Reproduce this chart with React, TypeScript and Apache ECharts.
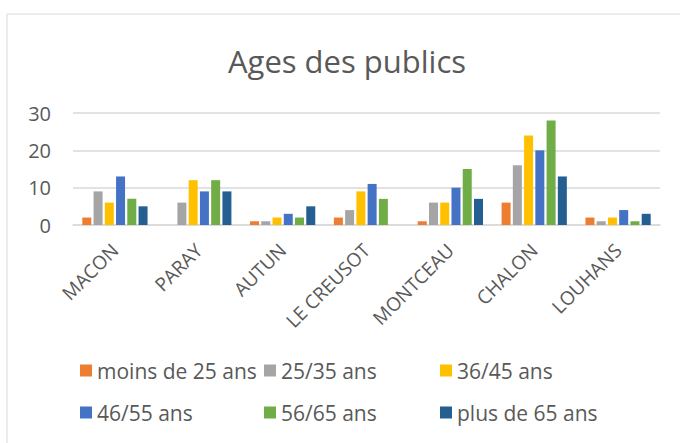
import React, { useEffect, useRef } from "react";
import * as echarts from "echarts";

const categories = ["MACON", "PARAY", "AUTUN", "LE CREUSOT", "MONTCEAU", "CHALON", "LOUHANS"];
const seriesNames = ["moins de 25 ans", "25/35 ans", "36/45 ans", "46/55 ans", "56/65 ans", "plus de 65 ans"];
const moins25 = [2, 0, 1, 2, 1, 6, 2];
const a25_35 = [9, 6, 1, 4, 6, 16, 1];
const a36_45 = [6, 12, 2, 9, 6, 24, 2];
const a46_55 = [13, 9, 3, 11, 10, 20, 4];
const a56_65 = [7, 12, 2, 7, 15, 28, 1];
const plus65 = [5, 9, 5, 0, 7, 13, 3];
const seriesValues = [moins25, a25_35, a36_45, a46_55, a56_65, plus65];
const colors = ["#ED7D31", "#A5A5A5", "#FFC000", "#4472C4", "#70AD47", "#255E91"];
const yTicks = [0, 10, 20, 30];

const FONT = "'Open Sans', 'Noto Sans', sans-serif";
const TEXT = "#595959";

const legendPos = [
  { left: 80, top: 360 },
  { left: 264, top: 360 },
  { left: 440, top: 360 },
  { left: 80, top: 402 },
  { left: 264, top: 402 },
  { left: 440, top: 402 },
];

export default function App() {
  const ref = useRef<HTMLDivElement>(null);
  useEffect(() => {
    if (!ref.current) return;
    const chart = echarts.init(ref.current, null, { renderer: "svg" });
    chart.setOption({
      animation: false,
      backgroundColor: "#ffffff",
      textStyle: { fontFamily: FONT },
      graphic: [
        {
          type: "rect",
          shape: { x: 7, y: 14, width: 700, height: 460 },
          style: { fill: "none", stroke: "#D9D9D9", lineWidth: 1 },
          silent: true,
        },
        {
          type: "text",
          x: 347,
          y: 61,
          style: {
            text: "Ages des publics",
            fill: TEXT,
            font: `31px ${FONT}`,
            textAlign: "center",
            textVerticalAlign: "middle",
          },
        },
      ],
      legend: seriesNames.map((n, i) => ({
        data: [n],
        left: legendPos[i].left,
        top: legendPos[i].top,
        icon: "rect",
        itemWidth: 12,
        itemHeight: 12,
        padding: 0,
        selectedMode: false,
        textStyle: { color: TEXT, fontSize: 21, fontFamily: FONT },
      })),
      grid: { left: 73, right: 20, top: 113, bottom: 218, containLabel: false },
      xAxis: {
        type: "category",
        data: categories,
        axisTick: { show: false },
        axisLine: { show: true, lineStyle: { color: "#D9D9D9", width: 1.5 } },
        axisLabel: {
          rotate: 45,
          interval: 0,
          margin: 22,
          color: TEXT,
          fontSize: 19,
          fontFamily: FONT,
        },
      },
      yAxis: {
        type: "value",
        min: yTicks[0],
        max: yTicks[yTicks.length - 1],
        interval: 10,
        axisLine: { show: false },
        axisTick: { show: false },
        splitLine: { lineStyle: { color: "#D9D9D9", width: 1.5 } },
        axisLabel: { color: TEXT, fontSize: 20, margin: 22, fontFamily: FONT },
      },
      series: seriesNames.map((n, i) => ({
        name: n,
        type: "bar",
        data: seriesValues[i],
        barWidth: 9,
        barGap: "25%",
        itemStyle: { color: colors[i] },
      })),
    });
    return () => chart.dispose();
  }, []);
  return (
    <div
      ref={ref}
      style={{ position: "fixed", left: 0, top: 0, width: 680, height: 443 }}
    />
  );
}
